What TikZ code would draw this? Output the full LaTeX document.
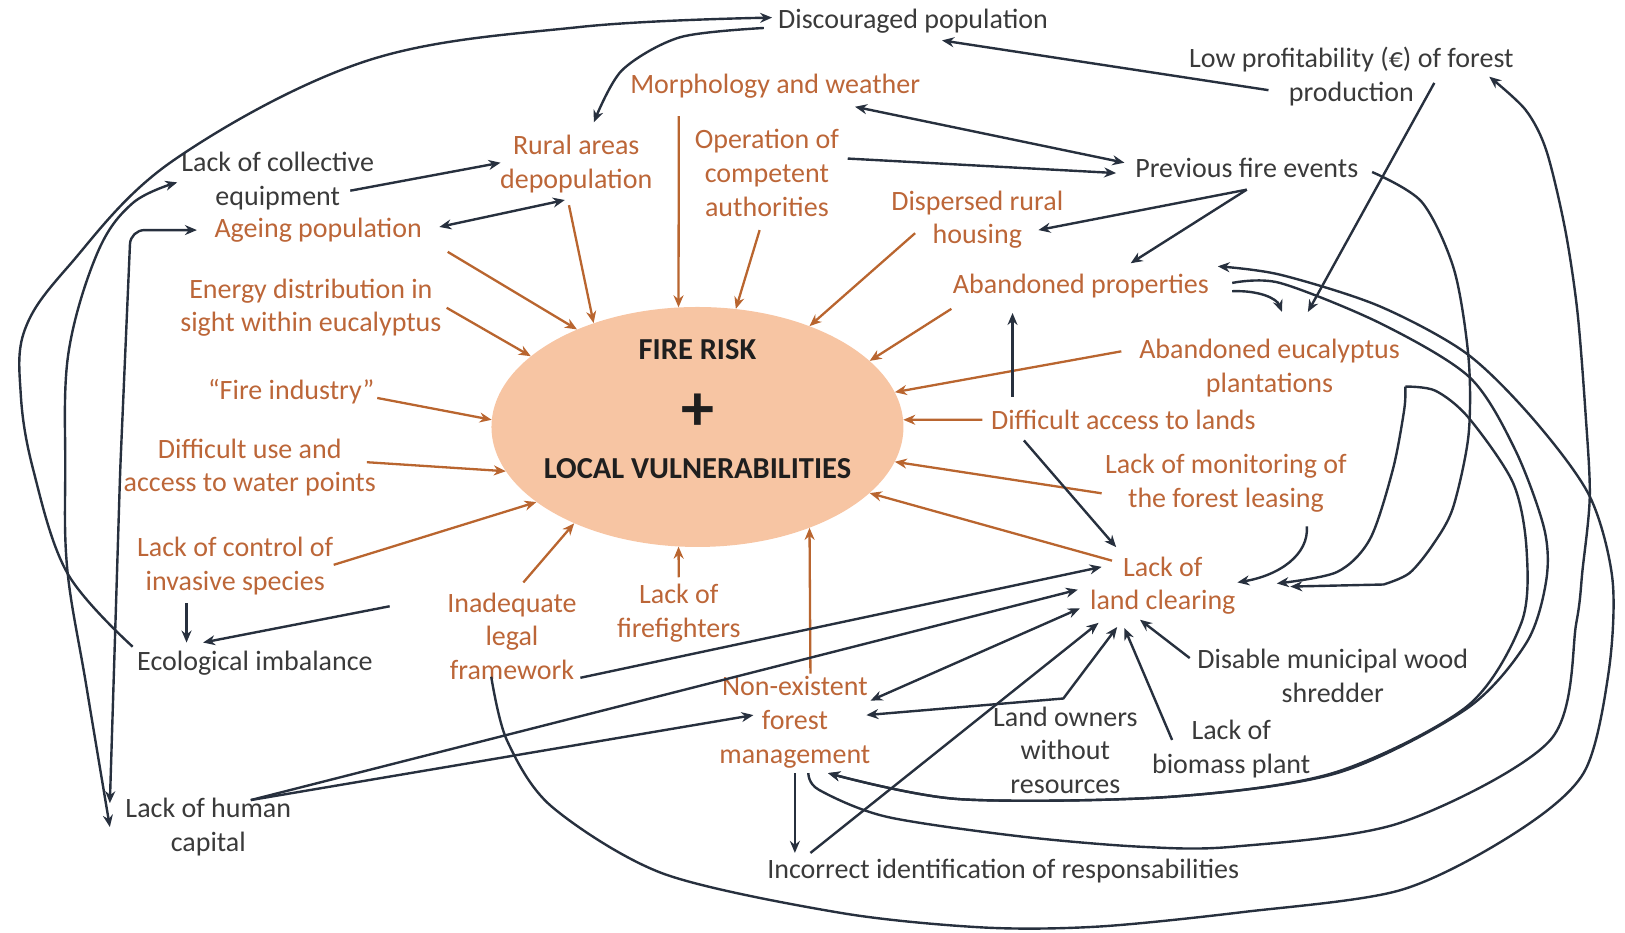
\documentclass[tikz,border=0pt]{standalone}
\usepackage{fontspec}
\setmainfont{Carlito}
\usetikzlibrary{arrows.meta,shapes.geometric,calc}
\definecolor{ora}{HTML}{B9652F}
\definecolor{otx}{HTML}{BC6638}
\definecolor{dk}{HTML}{27303E}
\definecolor{dtx}{HTML}{3A3A3A}
\definecolor{peach}{HTML}{F7C5A3}
\begin{document}
\begin{tikzpicture}[x=1.0364pt,y=-1.0364pt,
 lbl/.style={font=\fontsize{28}{33.7}\selectfont, align=center, inner sep=0pt},
 olbl/.style={lbl,text=otx},
 dlbl/.style={lbl,text=dtx},
 ctxt/.style={font=\bfseries\fontsize{30.5}{36}\selectfont, inner sep=0pt, text=black!88},
 oarr/.style={draw=ora,line width=2.3pt,-{Stealth[length=12pt,width=10pt]}},
 darr/.style={draw=dk,line width=2.4pt,-{Stealth[length=12pt,width=10pt]}},
 dboth/.style={draw=dk,line width=2.4pt,{Stealth[length=12pt,width=10pt]}-{Stealth[length=12pt,width=10pt]}},
]
\useasboundingbox (0,0) rectangle (1568,900);

% central ellipse
\node[ellipse,fill=peach,minimum width=412pt,minimum height=240pt,inner sep=0pt] (C) at (673,412) {};
\node[ctxt] (fr) at (673,337) {FIRE RISK};
\node[ctxt,font=\bfseries\fontsize{66}{70}\selectfont] (pl) at (673,398) {+};
\node[ctxt] (lv) at (673,452) {LOCAL VULNERABILITIES};

% labels
\node[dlbl] (dis) at (881,20) {Discouraged population};
\node[olbl] (mor) at (748,83) {Morphology and weather};
\node[dlbl] (low) at (1304,74) {Low profitability (€) of forest\\production};
\node[olbl] (rur) at (556,158) {Rural areas\\depopulation};
\node[dlbl] (col) at (268,175) {Lack of collective\\equipment};
\node[olbl] (ope) at (740,167) {Operation of\\competent\\authorities};
\node[dlbl] (pre) at (1203,162) {Previous fire events};
\node[olbl] (dsp) at (943,212) {Dispersed rural\\housing};
\node[olbl] (age) at (307,222) {Ageing population};
\node[olbl] (abp) at (1043,276) {Abandoned properties};
\node[olbl] (ene) at (300,297) {Energy distribution in\\sight within eucalyptus};
\node[olbl] (abe) at (1225,355) {Abandoned eucalyptus\\plantations};
\node[olbl] (fin) at (281,378) {“Fire industry”};
\node[olbl] (dac) at (1084,405) {Difficult access to lands};
\node[olbl] (dwu) at (241,451) {Difficult use and\\access to water points};
\node[olbl] (mon) at (1183,466) {Lack of monitoring of\\the forest leasing};
\node[olbl] (inv) at (227,546) {Lack of control of\\invasive species};
\node[olbl] (llc) at (1122,565) {Lack of\\land clearing};
\node[olbl] (leg) at (494,614) {Inadequate\\legal\\framework};
\node[olbl] (ff) at (655,592) {Lack of\\firefighters};
\node[dlbl] (eco) at (246,640) {Ecological imbalance};
\node[dlbl] (shr) at (1286,652) {Disable municipal wood\\shredder};
\node[olbl] (nex) at (767,697) {Non-existent\\forest\\management};
\node[dlbl] (lo) at (1028,724) {Land owners\\without\\resources};
\node[dlbl] (bio) at (1188,723) {Lack of\\biomass plant};
\node[dlbl] (hum) at (201,798) {Lack of human\\capital};
\node[dlbl] (inc) at (968,840) {Incorrect identification of responsabilities};

% orange connectors into the ellipse
\draw[oarr] ($(rur)+(-7,40)$) -- (C.135);
\draw[oarr] ($(age)+(125,21)$) -- (C.141);
\draw[oarr] ($(mor)+(-93,29)$) -- (C.99);
\draw[oarr] ($(ope)+(-7,55)$) -- (C.72);
\draw[oarr] ($(dsp)+(-60,13)$) -- (C.42);
\draw[oarr] ($(abp)+(-125,22)$) -- (C.21);
\draw[oarr] ($(abe)+(-143,-16)$) -- (C.10);
\draw[oarr] ($(dac)+(-136,0)$) -- (C.2);
\draw[oarr] ($(mon)+(-120,10)$) -- (C.350);
\draw[oarr] ($(llc)+(-49,-24)$) -- (C.339);
\draw[oarr] ($(nex)+(15,-47)$) -- (C.318.3);
\draw[oarr] ($(ff)+(0,-35)$) -- (C.261);
\draw[oarr] ($(leg)+(11,-52)$) -- (C.218);
\draw[oarr] ($(inv)+(95,-1)$) -- (C.205);
\draw[oarr] ($(dwu)+(113,-5)$) -- (C.193);
\draw[oarr] ($(fin)+(83,6)$) -- (C.178);
\draw[oarr] ($(ene)+(131,0)$) -- (C.157);

% dark connectors
\draw[darr] plot[smooth,tension=0.6] coordinates {($(eco)+(-118,-16)$) (65,553) (32,453) (20,380) (24,318) (66,257) (167,155) (353,59) (560,26) ($(dis)+(-136,-3)$)};
\draw[darr] plot[smooth] coordinates {($(dis)+(-144,7)$) (656,36) (600,68) ($(rur)+(17,-40)$)};
\draw[darr] ($(col)+(70,9)$) -- ($(rur)+(-73,-1)$);
\draw[dboth] ($(age)+(117,-3)$) -- ($(rur)+(-11,35)$);
\draw[dboth] plot[smooth,tension=0.6] coordinates {($(hum)+(-95,0)$) (83,660) (65,550) (63,453) (66,341) (94,244) (128,196) ($(col)+(-97,1)$)};
\draw[dboth,rounded corners=14pt] ($(hum)+(-95,-23)$) -- (116,453) -- (126,222) -- ($(age)+(-117,0)$);
\draw[darr] ($(low)+(-80,13)$) -- ($(dis)+(28,19)$);
\draw[dboth] ($(mor)+(77,20)$) -- ($(pre)+(-118,-5)$);
\draw[darr] ($(ope)+(78,-14)$) -- ($(pre)+(-126,5)$);
\draw[darr] ($(pre)+(0,21)$) -- ($(dsp)+(59,10)$);
\draw[darr] ($(pre)+(0,21)$) -- ($(abp)+(48,-22)$);
\draw[darr] ($(low)+(80,6)$) -- ($(abe)+(37,-54)$);
\draw[darr] ($(abp)+(146,5)$) .. controls (1215,280) and (1232,288) .. ($(abe)+(12,-54)$);
\draw[darr] ($(dac)+(-107,-22)$) -- ($(abp)+(-66,26)$);
\draw[darr] ($(dac)+(-96,20)$) -- ($(llc)+(-45,-37)$);
\draw[darr] plot[smooth] coordinates {($(pre)+(121,4)$) (1372,195) (1403,260) (1417,345) (1417,420) (1402,490) (1383,525) (1360,553) (1335,564)} -- ($(llc)+(123,1)$);
\draw[darr] ($(mon)+(78,42)$) .. controls (1263,535) and (1235,555) .. ($(llc)+(72,-3)$);
\draw[darr] plot[smooth] coordinates {($(abe)+(131,18)$) (1355,395) (1344,453) (1322,520) (1290,552) ($(llc)+(110,-2)$)};
\draw[darr] plot[smooth] coordinates {($(abe)+(131,18)$) (1385,377) (1417,403) (1460,466) (1473,530) (1468,601) (1415,682) (1286,746) (1127,769) (924,771) ($(nex)+(32,49)$)};
\draw[darr] plot[smooth] coordinates {($(abp)+(146,-3)$) (1235,273) (1332,312) (1418,364) (1462,434) (1490,510) (1492,560) (1473,620) (1415,684) (1290,746) (1127,769) (924,771) ($(nex)+(32,49)$)};
\draw[darr] plot[smooth] coordinates {($(nex)+(13,49)$) (790,762) (855,788) (984,807) (1100,817) (1190,817) (1351,794) (1496,714) (1521,601) (1527,550) (1534,479) (1530,400) (1522,300) (1510,220) (1492,145) (1472,106) ($(low)+(133,0)$)};
\draw[darr] plot[smooth] coordinates {($(leg)+(-20,39)$) (489,714) (532,778) (640,843) (812,881) (950,895) (1061,894) (1200,880) (1351,859) (1460,805) (1528,746) (1552,650) (1556,560) (1534,479) (1480,405) (1415,341) (1330,295) (1235,265) ($(abp)+(132,-19)$)};
\draw[darr] ($(hum)+(41,-26)$) -- ($(nex)+(-40,-7)$);
\draw[darr] ($(hum)+(41,-26)$) -- ($(llc)+(-82,4)$);
\draw[darr] ($(leg)+(66,40)$) -- ($(llc)+(-59,-18)$);
\draw[dboth] ($(nex)+(73,-21)$) -- ($(llc)+(-80,22)$);
\draw[dboth] ($(nex)+(69,-7)$) -- ($(lo)+(-2,-50)$) -- ($(llc)+(-44,40)$);
\draw[darr] ($(bio)+(-57,-9)$) -- ($(llc)+(-37,41)$);
\draw[darr] ($(shr)+(-138,-17)$) -- ($(llc)+(-22,33)$);
\draw[darr] ($(inc)+(-186,-17)$) -- ($(llc)+(-62,36)$);
\draw[darr] ($(nex)+(0,49)$) -- ($(inc)+(-201,-17)$);
\draw[darr] ($(inv)+(-47,36)$) -- ($(eco)+(-66,-20)$);
\draw[darr] ($(leg)+(-118,-29)$) -- ($(eco)+(-50,-20)$);
\end{tikzpicture}
\end{document}
